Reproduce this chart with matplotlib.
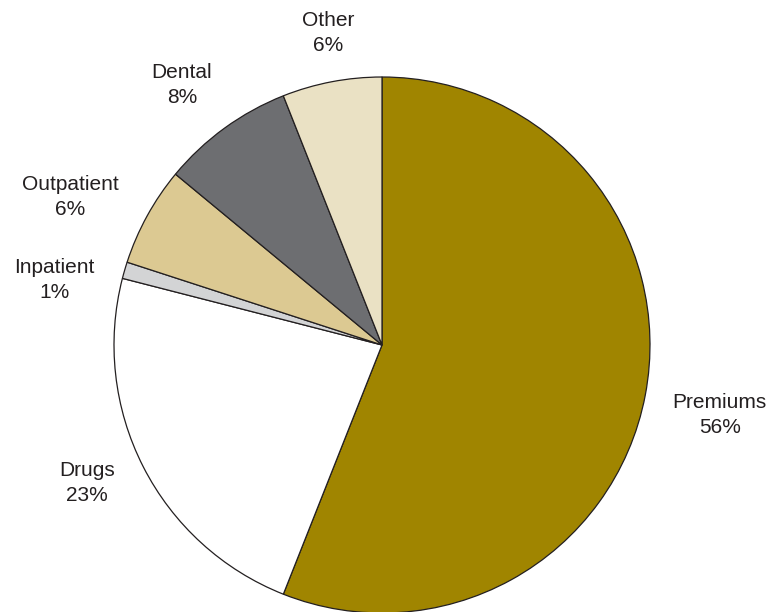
import matplotlib
matplotlib.use("Agg")
import matplotlib.pyplot as plt
import numpy as np

# Spending shares (percent)
categories = ["Premiums", "Drugs", "Inpatient", "Outpatient", "Dental", "Other"]
shares = [56, 23, 1, 6, 8, 6]
colors = ["#A08500", "#FFFFFF", "#D3D4D5", "#DCC992", "#6D6E71", "#EAE1C4"]
# label placement: distance (in radii) and angle nudge (deg) from wedge middle
label_dist = [1.287, 1.216, 1.246, 1.287, 1.224, 1.18]
label_nudge = [-0.9, -1.9, 5.0, 3.4, 1.6, -1.0]

plt.rcParams["font.family"] = ["Liberation Sans", "DejaVu Sans"]

fig = plt.figure(figsize=(7.71, 6.12), dpi=100)
ax = fig.add_axes([0, 0, 1, 1])

# pixel-like data coords, y up
radius = 268
center = (382, 612 - 345)
wedges, texts = ax.pie(
    shares,
    colors=colors,
    startangle=90,
    counterclock=False,
    center=center,
    radius=radius,
    wedgeprops=dict(edgecolor="#231F20", linewidth=0.9),
    labels=[f"{c}\n{s}%" for c, s in zip(categories, shares)],
    labeldistance=1.25,
    textprops=dict(fontsize=15, color="#231F20"),
)

for w, t, d, n in zip(wedges, texts, label_dist, label_nudge):
    ang = np.deg2rad((w.theta1 + w.theta2) / 2 + n)
    t.set_position((center[0] + d * radius * np.cos(ang),
                    center[1] + d * radius * np.sin(ang)))
    t.set_ha("center")
    t.set_va("center")
    t.set_multialignment("center")
    t.set_linespacing(1.4)

ax.set_xlim(0, 771)
ax.set_ylim(0, 612)
ax.set_aspect("equal")
ax.axis("off")

fig.savefig("out.png", dpi=100)
